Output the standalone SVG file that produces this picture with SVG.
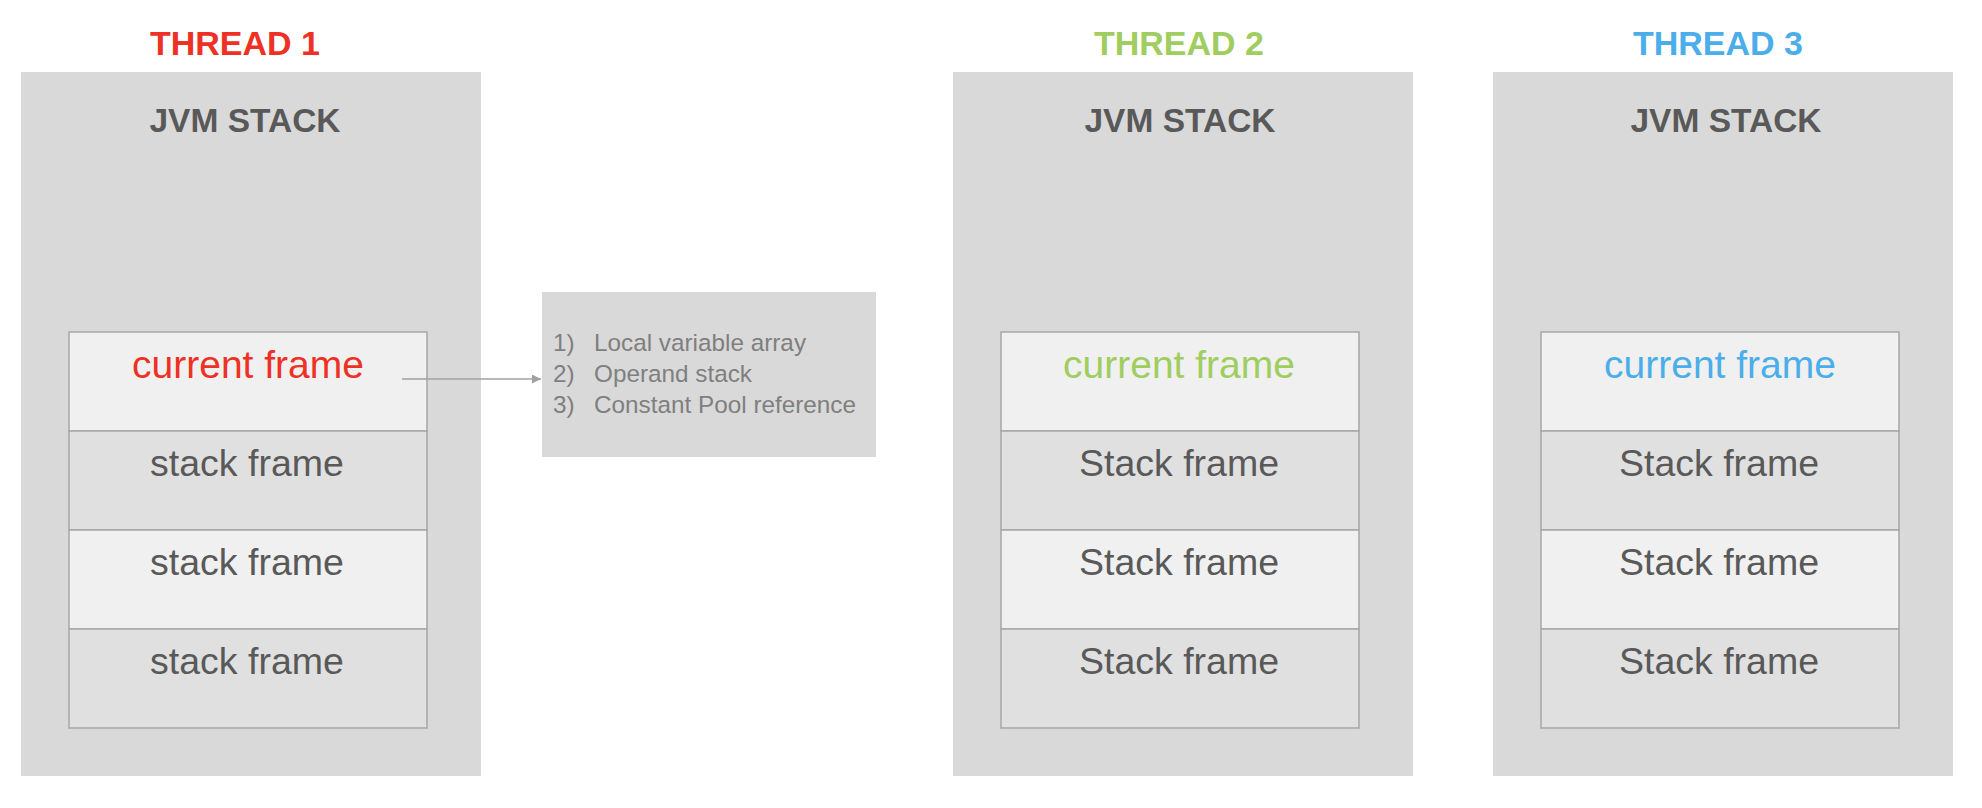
<svg xmlns="http://www.w3.org/2000/svg" width="1982" height="808" viewBox="0 0 1982 808">
<defs>
<style>
.outer{fill:#d9d9d9}
.frameA{fill:#f0f0f0;stroke:#a6a6a6;stroke-width:1.5}
.frameB{fill:#e0e0e0;stroke:#a6a6a6;stroke-width:1.5}
.title{font-family:"Liberation Sans",Arial,sans-serif;font-weight:bold;font-size:34px;text-anchor:middle}
.jvm{font-family:"Liberation Sans",Arial,sans-serif;font-weight:bold;font-size:33.5px;fill:#595959;text-anchor:middle}
.cur{font-family:"Liberation Sans",Arial,sans-serif;font-size:39px;text-anchor:middle}
.sf{font-family:"Liberation Sans",Arial,sans-serif;font-size:37.5px;fill:#595959;text-anchor:middle}
.info{font-family:"Liberation Sans",Arial,sans-serif;font-size:24.3px;fill:#7f7f7f}
.conn{stroke:#a0a0a0;stroke-width:1.5;fill:none}
</style>
<marker id="arrow" viewBox="0 0 10 10" refX="10" refY="5" markerWidth="6" markerHeight="6" orient="auto" markerUnits="strokeWidth">
<path d="M0,0 L10,5 L0,10 z" fill="#a0a0a0"/>
</marker>
</defs>
<rect width="1982" height="808" fill="#ffffff"/>

<g id="thread1">
<text class="title" x="235" y="55" fill="#ee3124">THREAD 1</text>
<rect class="outer" x="21" y="72" width="460" height="704"/>
<text class="jvm" x="245" y="132">JVM STACK</text>
<g id="t1-current"><rect class="frameA" x="69" y="332" width="358" height="99"/><text class="cur" x="248" y="378" fill="#ee3124">current frame</text></g>
<g id="t1-sf1"><rect class="frameB" x="69" y="431" width="358" height="99"/><text class="sf" x="247" y="476">stack frame</text></g>
<g id="t1-sf2"><rect class="frameA" x="69" y="530" width="358" height="99"/><text class="sf" x="247" y="575">stack frame</text></g>
<g id="t1-sf3"><rect class="frameB" x="69" y="629" width="358" height="99"/><text class="sf" x="247" y="674">stack frame</text></g>
</g>

<g id="info">
<rect class="outer" x="542" y="292" width="334" height="165"/>
<text class="info" x="553" y="351">1)</text><text class="info" x="594" y="351">Local variable array</text>
<text class="info" x="553" y="382">2)</text><text class="info" x="594" y="382">Operand stack</text>
<text class="info" x="553" y="413">3)</text><text class="info" x="594" y="413">Constant Pool reference</text>
</g>

<g id="thread2">
<text class="title" x="1179" y="55" fill="#9fcd5f">THREAD 2</text>
<rect class="outer" x="953" y="72" width="460" height="704"/>
<text class="jvm" x="1180" y="132">JVM STACK</text>
<g id="t2-current"><rect class="frameA" x="1001" y="332" width="358" height="99"/><text class="cur" x="1179" y="378" fill="#9fcd5f">current frame</text></g>
<g id="t2-sf1"><rect class="frameB" x="1001" y="431" width="358" height="99"/><text class="sf" x="1179" y="476">Stack frame</text></g>
<g id="t2-sf2"><rect class="frameA" x="1001" y="530" width="358" height="99"/><text class="sf" x="1179" y="575">Stack frame</text></g>
<g id="t2-sf3"><rect class="frameB" x="1001" y="629" width="358" height="99"/><text class="sf" x="1179" y="674">Stack frame</text></g>
</g>

<g id="thread3">
<text class="title" x="1718" y="55" fill="#4baeea">THREAD 3</text>
<rect class="outer" x="1493" y="72" width="460" height="704"/>
<text class="jvm" x="1726" y="132">JVM STACK</text>
<g id="t3-current"><rect class="frameA" x="1541" y="332" width="358" height="99"/><text class="cur" x="1720" y="378" fill="#4baeea">current frame</text></g>
<g id="t3-sf1"><rect class="frameB" x="1541" y="431" width="358" height="99"/><text class="sf" x="1719" y="476">Stack frame</text></g>
<g id="t3-sf2"><rect class="frameA" x="1541" y="530" width="358" height="99"/><text class="sf" x="1719" y="575">Stack frame</text></g>
<g id="t3-sf3"><rect class="frameB" x="1541" y="629" width="358" height="99"/><text class="sf" x="1719" y="674">Stack frame</text></g>
</g>

<g id="connectors">
<line class="conn" x1="402" y1="379" x2="541" y2="379" marker-end="url(#arrow)"/>
</g>
</svg>
